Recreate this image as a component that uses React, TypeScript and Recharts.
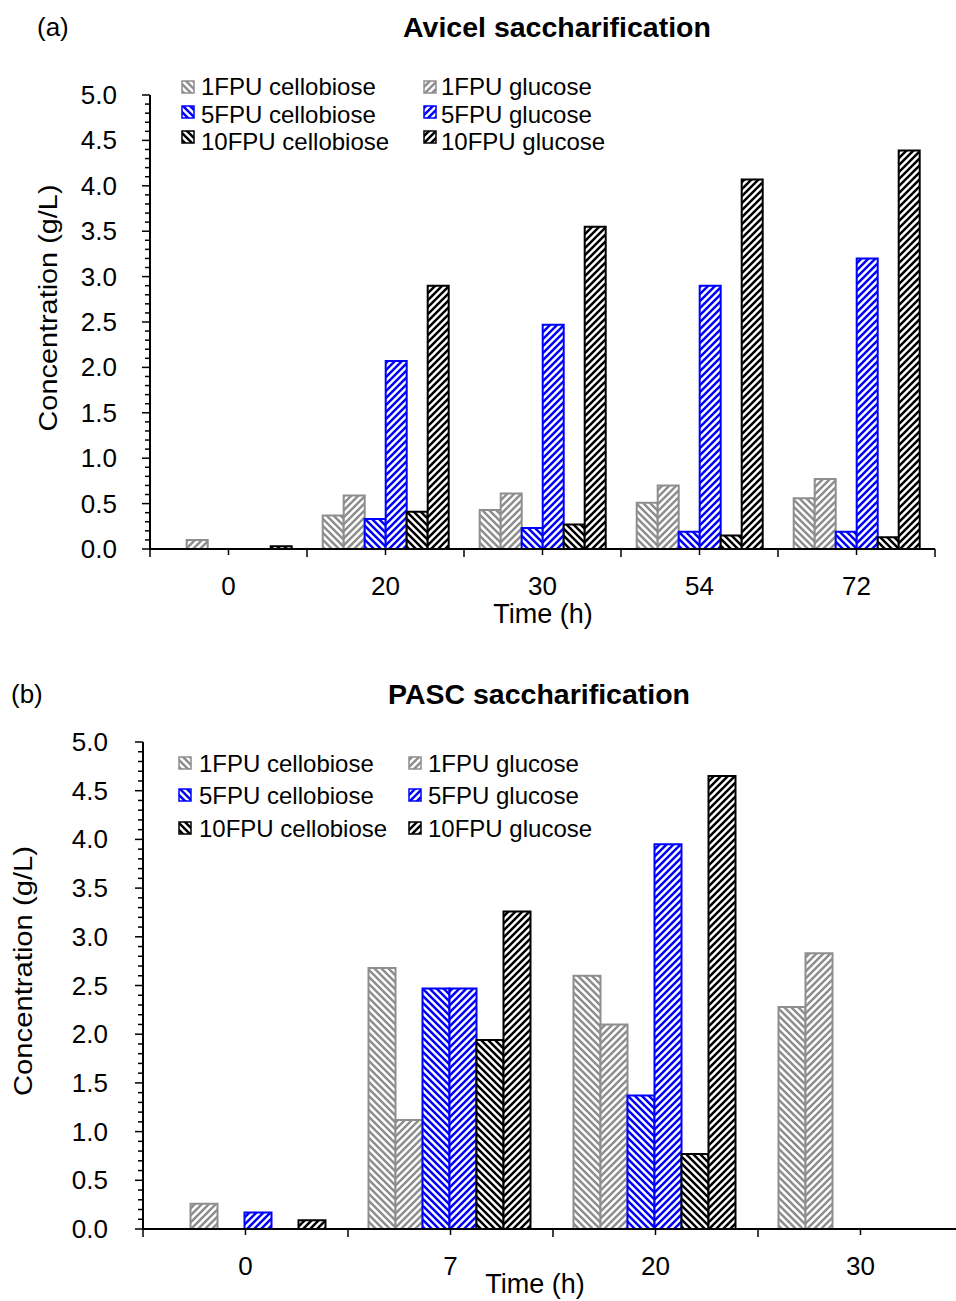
import { BarChart, Bar, XAxis, YAxis } from "recharts";

// ---- data ----
const timesA = ["0", "20", "30", "54", "72"];
const a1Cello = [null, 0.37, 0.43, 0.51, 0.56];
const a1Glu = [0.1, 0.59, 0.61, 0.7, 0.77];
const a5Cello = [null, 0.33, 0.23, 0.19, 0.19];
const a5Glu = [null, 2.07, 2.47, 2.9, 3.2];
const a10Cello = [null, 0.41, 0.27, 0.15, 0.13];
const a10Glu = [0.03, 2.9, 3.55, 4.07, 4.39];

const timesB = ["0", "7", "20", "30"];
const b1Cello = [null, 2.68, 2.6, 2.28];
const b1Glu = [0.26, 1.12, 2.1, 2.83];
const b5Cello = [null, 2.47, 1.37, null];
const b5Glu = [0.17, 2.47, 3.95, null];
const b10Cello = [null, 1.94, 0.77, null];
const b10Glu = [0.09, 3.26, 4.65, null];

const majorTicks = [0, 0.5, 1, 1.5, 2, 2.5, 3, 3.5, 4, 4.5, 5];
const allTicks = Array.from({ length: 51 }, (_, i) => i / 10);

const FONT = "'Liberation Sans', Arial, sans-serif";
const GRAY = "#8e8e8e";
const BLUE = "#0000ff";

const series = [
  { key: "c1", name: "1FPU cellobiose", fill: "url(#hc-gray)", stroke: GRAY },
  { key: "g1", name: "1FPU glucose", fill: "url(#hg-gray)", stroke: GRAY },
  { key: "c5", name: "5FPU cellobiose", fill: "url(#hc-blue)", stroke: BLUE },
  { key: "g5", name: "5FPU glucose", fill: "url(#hg-blue)", stroke: BLUE },
  { key: "c10", name: "10FPU cellobiose", fill: "url(#hc-black)", stroke: "#000" },
  { key: "g10", name: "10FPU glucose", fill: "url(#hg-black)", stroke: "#000" },
];

const rowsA = timesA.map((t, i) => ({
  time: t,
  c1: a1Cello[i],
  g1: a1Glu[i],
  c5: a5Cello[i],
  g5: a5Glu[i],
  c10: a10Cello[i],
  g10: a10Glu[i],
}));

const rowsB = timesB.map((t, i) => ({
  time: t,
  c1: b1Cello[i],
  g1: b1Glu[i],
  c5: b5Cello[i],
  g5: b5Glu[i],
  c10: b10Cello[i],
  g10: b10Glu[i],
}));

// diagonal hatch: "down" = \\\ (cellobiose), otherwise /// (glucose)
const Hatch = ({ id, color, down }: { id: string; color: string; down: boolean }) => (
  <pattern id={id} patternUnits="userSpaceOnUse" width={7} height={7}>
    <rect width={7} height={7} fill="#fff" />
    <path
      d={down ? "M-1,-1 L8,8 M-1,6 L1,8 M6,-1 L8,1" : "M-1,8 L8,-1 M-1,1 L1,-1 M6,8 L8,6"}
      stroke={color}
      strokeWidth={2.5}
    />
  </pattern>
);

const makeYTick = (gap: number) => (props: any) => {
  const { x, y, payload } = props;
  const v = payload.value;
  const major = majorTicks.some((m) => Math.abs(m - v) < 1e-6);
  return (
    <g>
      <line x1={x - (major ? 8 : 5)} x2={x} y1={y} y2={y} stroke="#000" strokeWidth={1.5} />
      {major && (
        <text x={x - gap} y={y + 9} textAnchor="end" fontSize={26} fontFamily={FONT} fill="#000">
          {v.toFixed(1)}
        </text>
      )}
    </g>
  );
};

const makeXTick = (band: number, count: number) => (props: any) => {
  const { x, y, payload, index } = props;
  return (
    <g>
      <line x1={x} x2={x} y1={y} y2={y + 6} stroke="#000" strokeWidth={1.5} />
      <line x1={x - band / 2} x2={x - band / 2} y1={y} y2={y + 8} stroke="#000" strokeWidth={1.5} />
      {index === count - 1 && (
        <line x1={x + band / 2} x2={x + band / 2} y1={y} y2={y + 8} stroke="#000" strokeWidth={1.5} />
      )}
      <text x={x} y={y + 46} textAnchor="middle" fontSize={26} fontFamily={FONT} fill="#000">
        {payload.value}
      </text>
    </g>
  );
};

const Legend = ({
  x1,
  x2,
  tx1,
  tx2,
  rows,
  icons,
}: {
  x1: number;
  x2: number;
  tx1: number;
  tx2: number;
  rows: number[];
  icons: number[];
}) => (
  <g>
    {series.map((s, i) => {
      const r = Math.floor(i / 2);
      const col = i % 2;
      return (
        <g key={s.key}>
          <rect
            x={col ? x2 : x1}
            y={icons[r] - 6}
            width={12}
            height={12}
            fill={s.fill}
            stroke={s.stroke}
            strokeWidth={1.5}
          />
          <text x={col ? tx2 : tx1} y={rows[r]} fontSize={24} fontFamily={FONT} fill="#000">
            {s.name}
          </text>
        </g>
      );
    })}
  </g>
);

const renderBars = () =>
  series.map((s) => (
    <Bar
      key={s.key}
      dataKey={s.key}
      name={s.name}
      fill={s.fill}
      stroke={s.stroke}
      strokeWidth={2}
      isAnimationActive={false}
    />
  ));

export default function App() {
  return (
    <div
      style={{
        position: "absolute",
        left: 0,
        top: 0,
        width: 956,
        height: 1301,
        overflow: "hidden",
        background: "#fff",
      }}
    >
      <div style={{ position: "absolute", left: 0, top: 0 }}>
        <BarChart
          width={956}
          height={640}
          data={rowsA}
          margin={{ top: 95, right: 21, left: 0, bottom: 0 }}
          barCategoryGap="10%"
          barGap={0}
        >
          <XAxis
            dataKey="time"
            height={91}
            interval={0}
            tickSize={0}
            tickMargin={0}
            tickLine={false}
            axisLine={{ stroke: "#000", strokeWidth: 2 }}
            tick={makeXTick(157, timesA.length)}
          />
          <YAxis
            width={150}
            domain={[0, 5]}
            ticks={allTicks}
            interval={0}
            tickSize={0}
            tickMargin={0}
            tickLine={false}
            axisLine={{ stroke: "#000", strokeWidth: 2 }}
            tick={makeYTick(33)}
          />
          {renderBars()}
        </BarChart>
      </div>

      <div style={{ position: "absolute", left: 0, top: 650 }}>
        {/* the last category runs past the right edge of the figure */}
        <BarChart
          width={956}
          height={640}
          data={rowsB}
          margin={{ top: 92, right: -7, left: 0, bottom: 0 }}
          barCategoryGap="10%"
          barGap={0}
        >
          <XAxis
            dataKey="time"
            height={61}
            interval={0}
            tickSize={0}
            tickMargin={0}
            tickLine={false}
            axisLine={{ stroke: "#000", strokeWidth: 2 }}
            tick={makeXTick(205, timesB.length)}
          />
          <YAxis
            width={143}
            domain={[0, 5]}
            ticks={allTicks}
            interval={0}
            tickSize={0}
            tickMargin={0}
            tickLine={false}
            axisLine={{ stroke: "#000", strokeWidth: 2 }}
            tick={makeYTick(35)}
          />
          {renderBars()}
        </BarChart>
      </div>

      <svg
        width={956}
        height={1301}
        style={{ position: "absolute", left: 0, top: 0, pointerEvents: "none" }}
      >
        <defs>
          <Hatch id="hc-gray" color={GRAY} down />
          <Hatch id="hg-gray" color={GRAY} down={false} />
          <Hatch id="hc-blue" color={BLUE} down />
          <Hatch id="hg-blue" color={BLUE} down={false} />
          <Hatch id="hc-black" color="#000" down />
          <Hatch id="hg-black" color="#000" down={false} />
        </defs>

        {/* panel (a) */}
        <text x={37} y={36} fontSize={26} fontFamily={FONT}>(a)</text>
        <text x={557} y={37} fontSize={28.5} fontWeight="bold" fontFamily={FONT} textAnchor="middle">
          Avicel saccharification
        </text>
        <text
          transform="translate(57,308) rotate(-90)"
          fontSize={26}
          fontFamily={FONT}
          textAnchor="middle"
          textLength={247}
          lengthAdjust="spacingAndGlyphs"
        >
          Concentration (g/L)
        </text>
        <text x={543} y={623} fontSize={27} fontFamily={FONT} textAnchor="middle">
          Time (h)
        </text>
        <Legend x1={182} x2={424} tx1={201} tx2={441} rows={[95, 123, 150]} icons={[87, 112, 137]} />

        {/* panel (b) */}
        <text x={11} y={703} fontSize={26} fontFamily={FONT}>(b)</text>
        <text x={539} y={704} fontSize={28.5} fontWeight="bold" fontFamily={FONT} textAnchor="middle">
          PASC saccharification
        </text>
        <text
          transform="translate(32,971) rotate(-90)"
          fontSize={26}
          fontFamily={FONT}
          textAnchor="middle"
          textLength={250}
          lengthAdjust="spacingAndGlyphs"
        >
          Concentration (g/L)
        </text>
        <text x={535} y={1293} fontSize={27} fontFamily={FONT} textAnchor="middle">
          Time (h)
        </text>
        <Legend x1={179} x2={409} tx1={199} tx2={428} rows={[772, 804, 837]} icons={[763, 795, 828]} />
      </svg>
    </div>
  );
}
